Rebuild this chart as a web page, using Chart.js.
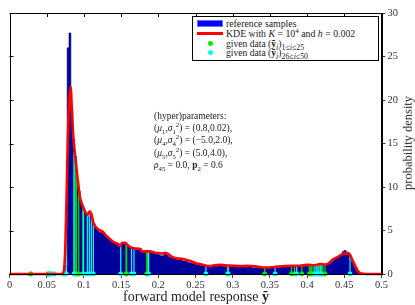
<!DOCTYPE html>
<html>
<head>
<meta charset="utf-8">
<script src="https://cdn.jsdelivr.net/npm/chart.js@4.4.1/dist/chart.umd.min.js"></script>
<style>
  body { margin: 0; background: #fff; }
  #wrap { position: relative; width: 415px; height: 305px; font-family: "Liberation Serif", "DejaVu Serif", serif; color: #222; }
  canvas { position: absolute; left: 0; top: 0; }
  .txt { position: absolute; white-space: nowrap; line-height: 1; }
  sub, sup { font-size: 72%; line-height: 0; }
  #legend { position: absolute; left: 192px; top: 16px; width: 185px; height: 43px; border: 1px solid #000; background: #fff; }
  #legend .row { position: absolute; left: 33px; white-space: nowrap; line-height: 1; }
  #legend .row.g sub { font-size: 82%; }
  #legend .sw { position: absolute; }
  #note { position: absolute; left: 154px; top: 110px; font-size: 9.5px; line-height: 12.2px; white-space: nowrap; }
</style>
</head>
<body>
<div id="wrap">
  <canvas id="chart" width="415" height="305"></canvas>
  <div id="legend">
    <div class="sw" style="left:4px;top:3px;width:26px;height:7px;background:#0000ff;border:1px solid #6f6fff;box-sizing:border-box;"></div>
    <div class="row" style="top:2px;font-size:9.8px;">reference samples</div>
    <div class="sw" style="left:4px;top:15px;width:26px;height:3px;background:#ff0000;"></div>
    <div class="row" style="top:12px;font-size:9.8px;">KDE with <i>K</i> = 10<sup>4</sup> and <i>h</i> = 0.002</div>
    <div class="sw" style="left:15px;top:24px;width:5px;height:5px;border-radius:50%;background:#00ee00;"></div>
    <div class="row g" style="top:21.5px;font-size:9.6px;">given data (<b>ỹ</b><sub><i>i</i></sub>)<sub>1≤<i>i</i>≤25</sub></div>
    <div class="sw" style="left:15px;top:33px;width:5px;height:5px;border-radius:50%;background:#00ffff;"></div>
    <div class="row g" style="top:30.5px;font-size:9.6px;">given data (<b>ỹ</b><sub><i>i</i></sub>)<sub>26≤<i>i</i>≤50</sub></div>
  </div>
  <div id="note">
    (hyper)parameters:<br>
    (<i>μ</i><sub>1</sub>,<i>σ</i><sub>1</sub><sup>2</sup>) = (0.8,0.02),<br>
    (<i>μ</i><sub>4</sub>,<i>σ</i><sub>4</sub><sup>2</sup>) = (−5.0,2.0),<br>
    (<i>μ</i><sub>5</sub>,<i>σ</i><sub>5</sub><sup>2</sup>) = (5.0,4.0),<br>
    <i>ρ</i><sub>45</sub> = 0.0, <b>p</b><sub>2</sub> = 0.6
  </div>
  <div class="txt" style="left:0;width:392px;top:290px;text-align:center;font-size:14px;">forward model response <b>ỹ</b></div>
  <div class="txt" style="left:408px;top:143px;font-size:12.5px;transform:translate(-50%,-50%) rotate(-90deg);">probability density</div>
</div>
<script>
// histogram of reference samples, bins of width 0.0025 starting at 0.07
const histStart = 0.07;
const histWidth = 0.0025;
const histDensity = [
  0, 0, 1.0, 26.0, 27.7, 19.0, 15.5, 13.5,
  11.0, 9.5, 8.4, 7.8, 7.3, 6.9, 6.6, 7.0,
  6.4, 5.8, 5.3, 5.0, 4.8, 4.8, 4.6, 4.4,
  4.2, 4.0, 3.9, 3.7, 3.6, 3.5, 3.5, 3.4,
  3.5, 3.5, 3.4, 3.2, 3.1, 3.1, 3.0, 2.9,
  3.0, 2.9, 2.9, 2.7, 2.6, 2.6, 2.6, 2.5,
  2.4, 2.5, 2.4, 2.3, 2.2, 2.1, 2.1, 2.3,
  2.2, 2.0, 1.9, 1.8, 1.8, 1.7, 1.6, 1.6,
  1.6, 1.5, 1.5, 1.4, 1.3, 1.3, 1.2, 1.2,
  1.1, 1.1, 1.1, 1.0, 1.0, 0.9, 0.9, 0.8,
  0.9, 0.9, 1.0, 0.9, 1.0, 1.0, 1.0, 0.9,
  0.9, 1.0, 1.0, 0.9, 0.9, 0.85, 0.8, 0.85,
  0.8, 0.8, 0.8, 0.75, 0.8, 0.8, 0.75, 0.7,
  0.75, 0.8, 0.75, 0.7, 0.7, 0.65, 0.65, 0.7,
  0.7, 0.75, 0.8, 0.8, 0.8, 0.85, 0.8, 0.8,
  0.85, 0.8, 0.85, 0.9, 0.85, 0.8, 0.9, 0.85,
  0.8, 0.85, 0.9, 0.95, 0.9, 1.0, 0.95, 0.9,
  1.0, 1.05, 0.95, 1.0, 1.0, 1.05, 1.0, 1.1,
  1.2, 1.4, 1.6, 1.8, 1.9, 2.1, 2.3, 2.6,
  2.7, 2.5, 2.2, 1.7, 1.3, 0.8, 0.5, 0.25,
  0.1, 0, 0
];

// kernel density estimate
const kdeX = [0, 0.07, 0.073, 0.075, 0.0765, 0.078, 0.08, 0.0822, 0.084, 0.086,
  0.088, 0.09, 0.092, 0.095, 0.098, 0.1015, 0.105, 0.108, 0.11, 0.1127,
  0.116, 0.12, 0.126, 0.13, 0.135, 0.1395, 0.1445, 0.1485, 0.152, 0.155,
  0.158, 0.162, 0.166, 0.17, 0.1754, 0.178, 0.182, 0.189, 0.195, 0.2,
  0.205, 0.209, 0.213, 0.218, 0.2247, 0.23, 0.235, 0.238, 0.243, 0.2516,
  0.258, 0.2695, 0.275, 0.283, 0.29, 0.3, 0.31, 0.32, 0.33, 0.34,
  0.35, 0.36, 0.37, 0.38, 0.39, 0.4, 0.41, 0.417, 0.425, 0.43,
  0.435, 0.44, 0.448, 0.4555, 0.462, 0.466, 0.469, 0.473, 0.48, 0.5];
const kdeY = [0, 0, 0.3, 3, 8, 14, 19.5, 21.5, 18.5, 15.5,
  13.8, 12.2, 10.6, 8.7, 7.9, 7.2, 6.8, 7.2, 6.9, 5.9,
  5.4, 5.1, 4.8, 4.4, 4.0, 3.7, 3.5, 3.2, 3.6, 3.6,
  3.4, 3.1, 3.0, 2.9, 2.9, 2.6, 2.6, 2.6, 2.45, 2.4,
  2.35, 2.45, 2.3, 2.0, 1.8, 1.75, 1.7, 1.6, 1.5, 1.2,
  1.1, 0.9, 1.0, 1.05, 1.0, 0.95, 0.9, 0.95, 0.9, 0.75,
  0.75, 0.85, 0.9, 0.95, 0.95, 1.05, 1.0, 1.15, 1.1, 1.3,
  1.7, 1.9, 2.3, 2.4, 1.4, 0.7, 0.25, 0.05, 0, 0];

// given data, i = 1..25 (green) and i = 26..50 (cyan), with stem heights
const greenX = [0.0285, 0.052, 0.0525, 0.087, 0.089, 0.090, 0.093, 0.0984, 0.1566, 0.1575,
  0.1844, 0.186, 0.293, 0.343, 0.379, 0.383, 0.393, 0.403, 0.405, 0.4065,
  0.409, 0.417, 0.419, 0.421, 0.424];
const greenH = [0, 0, 0, 14, 13, 12, 10.5, 7.8, 3.4, 3.3,
  2.6, 2.6, 1.0, 0.7, 0.9, 0.85, 0.85, 1.0, 0.95, 0.95,
  0.95, 1.1, 1.05, 1.05, 1.05];
const cyanX = [0.054, 0.057, 0.060, 0.073, 0.0745, 0.0765, 0.0867, 0.0995, 0.1046, 0.1073,
  0.110, 0.1127, 0.1495, 0.164, 0.1673, 0.187, 0.264, 0.294, 0.357, 0.386,
  0.4106, 0.413, 0.415, 0.4185, 0.4577];
const cyanH = [0, 0, 0, 0, 0.5, 5, 14, 7.6, 6.8, 7.0,
  6.6, 5.9, 3.4, 3.0, 2.9, 2.6, 0.9, 1.0, 0.75, 0.85,
  1.0, 1.0, 1.0, 1.05, 2.2];

const xTicks = [0, 0.05, 0.1, 0.15, 0.2, 0.25, 0.3, 0.35, 0.4, 0.45, 0.5];
const yTicks = [0, 5, 10, 15, 20, 25, 30];

const histData = histDensity.map((d, i) => ({ x: histStart + i * histWidth, y: d }));
const kdeData = kdeX.map((x, i) => ({ x: x, y: kdeY[i] }));

function stems(xs, hs) {
  const out = [];
  xs.forEach((x, i) => {
    out.push({ x: x, y: 0 }, { x: x, y: hs[i] }, { x: x, y: null });
  });
  return out;
}

const baseRadius = (c) => (c.raw && c.raw.y === 0 ? 2.4 : 0);

// inward ticks on top and left, plus the frame
const framePlugin = {
  id: 'frame',
  afterDraw(chart) {
    const { ctx, chartArea: a, scales } = chart;
    ctx.save();
    ctx.strokeStyle = '#000';
    ctx.lineWidth = 1;
    ctx.beginPath();
    xTicks.forEach(v => {
      const px = Math.round(scales.x.getPixelForValue(v)) + 0.5;
      ctx.moveTo(px, a.top); ctx.lineTo(px, a.top + 4);
    });
    yTicks.forEach(v => {
      const py = Math.round(scales.y.getPixelForValue(v)) + 0.5;
      ctx.moveTo(a.left, py); ctx.lineTo(a.left + 4, py);
    });
    ctx.stroke();
    ctx.strokeRect(Math.round(a.left) + 0.5, Math.round(a.top) + 0.5,
      Math.round(a.right - a.left), Math.round(a.bottom - a.top));
    ctx.restore();
  }
};

new Chart(document.getElementById('chart'), {
  type: 'line',
  data: {
    datasets: [
      {
        label: 'reference samples',
        data: histData,
        stepped: 'before',
        fill: 'origin',
        backgroundColor: '#00009a',
        borderColor: '#00008a',
        borderWidth: 0.6,
        pointRadius: 0,
        order: 4
      },
      {
        label: 'given data 1-25',
        data: stems(greenX, greenH),
        borderColor: '#00dd00',
        backgroundColor: '#00ee00',
        borderWidth: 1.2,
        pointRadius: baseRadius,
        pointBorderWidth: 0,
        spanGaps: false,
        clip: 6,
        order: 3
      },
      {
        label: 'given data 26-50',
        data: stems(cyanX, cyanH),
        borderColor: '#00ffff',
        backgroundColor: '#00ffff',
        borderWidth: 1.2,
        pointRadius: baseRadius,
        pointBorderWidth: 0,
        spanGaps: false,
        clip: 6,
        order: 2
      },
      {
        label: 'KDE',
        data: kdeData,
        borderColor: '#ff0000',
        borderWidth: 2.6,
        pointRadius: 0,
        fill: false,
        cubicInterpolationMode: 'monotone',
        clip: 4,
        order: 1
      }
    ]
  },
  options: {
    responsive: false,
    animation: false,
    events: [],
    layout: { padding: { left: 9.5, top: 13, right: 0, bottom: 0 } },
    plugins: { legend: { display: false }, tooltip: { enabled: false } },
    scales: {
      x: {
        type: 'linear',
        min: 0,
        max: 0.5,
        afterFit: (s) => { s.height = 31; },
        afterBuildTicks: (s) => { s.ticks = xTicks.map(v => ({ value: v })); },
        ticks: {
          padding: 1,
          maxRotation: 0,
          color: '#333',
          font: { family: 'Liberation Serif', size: 10.5 },
          callback: (v) => String(Number(v.toFixed(2)))
        },
        grid: { drawOnChartArea: false, tickLength: 4, color: '#444' },
        border: { display: true, color: '#000' }
      },
      y: {
        position: 'right',
        min: 0,
        max: 30,
        afterFit: (s) => { s.width = 33.5; },
        afterBuildTicks: (s) => { s.ticks = yTicks.map(v => ({ value: v })); },
        ticks: {
          padding: 2,
          color: '#333',
          font: { family: 'Liberation Serif', size: 10.5 }
        },
        grid: { drawOnChartArea: false, tickLength: 4, color: '#444' },
        border: { display: true, color: '#000' }
      }
    }
  },
  plugins: [framePlugin]
});
</script>
</body>
</html>
